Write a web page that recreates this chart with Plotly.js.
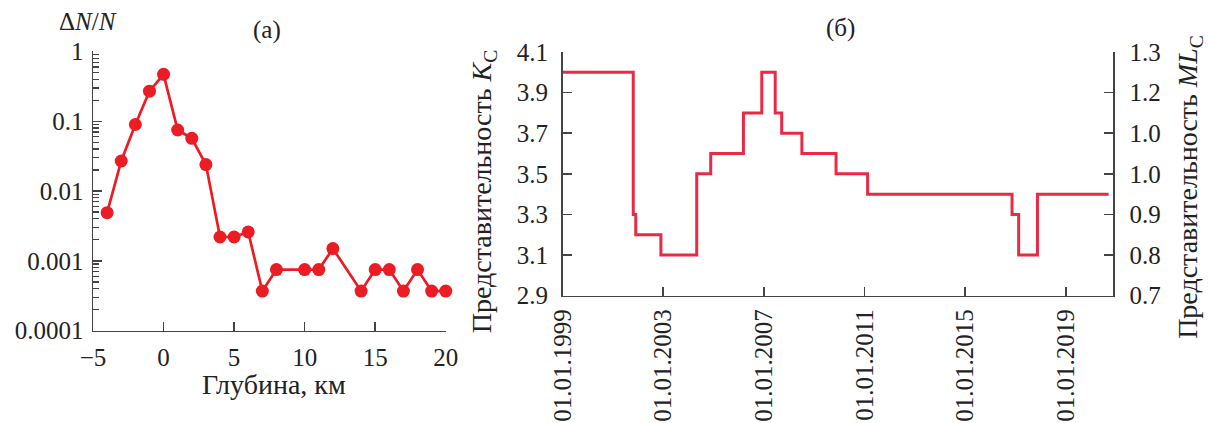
<!DOCTYPE html>
<html>
<head>
<meta charset="utf-8">
<script src="https://cdn.plot.ly/plotly-3.0.1.min.js"></script>
<style>
  html, body { margin: 0; padding: 0; background: #fff; }
  #chart { width: 1208px; height: 423px; }
</style>
</head>
<body>
<div id="chart"></div>
<script>
// (а) relative number of events by hypocentre depth
const depthKm = [-4, -3, -2, -1, 0, 1, 2, 3, 4, 5, 6, 7, 8, 10, 11, 12, 14, 15, 16, 17, 18, 19, 20];
const relCount = [0.0049, 0.027, 0.09, 0.27, 0.47, 0.075, 0.057, 0.024, 0.0022, 0.0022, 0.0026,
                  0.00037, 0.00075, 0.00075, 0.00075, 0.0015, 0.00037, 0.00075, 0.00075,
                  0.00037, 0.00075, 0.00037, 0.00037];
const depthTicks = [-5, 0, 5, 10, 15, 20];
const depthTickText = ['\u22125', '0', '5', '10', '15', '20'];
const logTicks = [0.0001, 0.001, 0.01, 0.1, 1];
const logTickText = ['0.0001', '0.001', '0.01', '0.1', '1'];

// (б) representative class K_C over time (step changes)
const stepDates = ['1999-01-01', '2001-10-23', '2001-11-28', '2002-11-28', '2004-05-01', '2004-11-20',
                   '2006-03-10', '2006-12-01', '2007-06-14', '2007-09-16', '2008-07-05', '2009-11-13',
                   '2011-02-14', '2016-11-10', '2017-02-14', '2017-11-14', '2020-09-12'];
const kcValues = [4.0, 3.3, 3.2, 3.1, 3.5, 3.6, 3.8, 4.0, 3.8, 3.7, 3.6, 3.5, 3.4, 3.3, 3.1, 3.4, 3.4];
const dateTicks = ['1999-01-01', '2003-01-01', '2007-01-01', '2011-01-01', '2015-01-01', '2019-01-01'];
const dateTickText = ['01.01.1999', '01.01.2003', '01.01.2007', '01.01.2011', '01.01.2015', '01.01.2019'];
const kcTicks = [2.9, 3.1, 3.3, 3.5, 3.7, 3.9, 4.1];
const kcTickText = ['2.9', '3.1', '3.3', '3.5', '3.7', '3.9', '4.1'];
const mlTicks = [0.7, 0.8, 0.9, 1.0, 1.1, 1.2, 1.3];
const mlTickText = ['0.7', '0.8', '0.9', '1.0', '1.0', '1.2', '1.3'];

const axisColor = '#444';
const family = 'Liberation Serif, Times New Roman, serif';
const font = { family: family, size: 25, color: '#222' };
const titleFont = { family: family, size: 28, color: '#222' };

const baseAxis = {
  showgrid: false, zeroline: false, showline: true,
  linecolor: axisColor, linewidth: 1.5,
  ticks: 'inside', ticklen: 9, tickwidth: 1.5, tickcolor: axisColor,
  tickfont: font
};

const traces = [
  {
    x: depthKm, y: relCount, xaxis: 'x', yaxis: 'y',
    type: 'scatter', mode: 'lines+markers', cliponaxis: false,
    line: { color: '#ec1c24', width: 2.7 },
    marker: { color: '#ec1c24', size: 13 },
    hoverinfo: 'x+y'
  },
  {
    x: stepDates, y: kcValues, xaxis: 'x2', yaxis: 'y2',
    type: 'scatter', mode: 'lines',
    line: { color: '#ea2a45', width: 3, shape: 'hv' },
    hoverinfo: 'x+y'
  },
  // empty trace so the ML_C scale on the right is drawn
  { x: [], y: [], xaxis: 'x2', yaxis: 'y3', type: 'scatter', mode: 'lines', hoverinfo: 'skip' }
];

const layout = {
  width: 1208, height: 423,
  margin: { l: 0, r: 0, t: 0, b: 0 },
  paper_bgcolor: '#fff', plot_bgcolor: 'rgba(0,0,0,0)',
  showlegend: false,
  font: font,
  xaxis: Object.assign({}, baseAxis, {
    domain: [0.077, 0.369], anchor: 'y',
    range: [-5, 20], tickvals: depthTicks, ticktext: depthTickText,
    ticklabelstandoff: 4
  }),
  yaxis: Object.assign({}, baseAxis, {
    domain: [0.2182, 0.8783], anchor: 'x',
    type: 'log', range: [-4, 0], dtick: 1, tickvals: logTicks, ticktext: logTickText,
    ticklabelstandoff: 3,
    minor: { dtick: 'D1', ticks: 'inside', ticklen: 6, tickwidth: 1.2, tickcolor: axisColor, showgrid: false }
  }),
  xaxis2: Object.assign({}, baseAxis, {
    domain: [0.4657, 0.9214], anchor: 'y2',
    type: 'date', range: ['1999-01-01', '2020-11-15'],
    tickvals: dateTicks, ticktext: dateTickText, tickangle: -90,
    ticklabelstandoff: 2
  }),
  yaxis2: Object.assign({}, baseAxis, {
    domain: [0.3009, 0.8771], anchor: 'x2',
    range: [2.9, 4.1], tickvals: kcTicks, ticktext: kcTickText,
    ticklabelstandoff: 8
  }),
  yaxis3: Object.assign({}, baseAxis, {
    overlaying: 'y2', anchor: 'x2', side: 'right',
    range: [0.7, 1.3], tickvals: mlTicks, ticktext: mlTickText,
    ticklabelstandoff: 10
  }),
  annotations: [
    { text: '\u0394<i>N</i>/<i>N</i>', xref: 'paper', yref: 'paper', x: 0.073, y: 0.948,
      xanchor: 'center', yanchor: 'middle', showarrow: false, font: { family: family, size: 25, color: '#222' } },
    { text: '(a)', xref: 'paper', yref: 'paper', x: 0.221, y: 0.929,
      xanchor: 'center', yanchor: 'middle', showarrow: false, font: font },
    { text: '(б)', xref: 'paper', yref: 'paper', x: 0.696, y: 0.934,
      xanchor: 'center', yanchor: 'middle', showarrow: false, font: font },
    { text: 'Глубина, км', xref: 'paper', yref: 'paper', x: 0.227, y: 0.09,
      xanchor: 'center', yanchor: 'middle', showarrow: false, font: titleFont },
    { text: 'Представительность <i>K</i><sub>C</sub>', xref: 'paper', yref: 'paper',
      x: 0.400, y: 0.546, textangle: -90,
      xanchor: 'center', yanchor: 'middle', showarrow: false, font: titleFont },
    { text: 'Представительность <i>ML</i><sub>C</sub>', xref: 'paper', yref: 'paper',
      x: 0.985, y: 0.558, textangle: -90,
      xanchor: 'center', yanchor: 'middle', showarrow: false, font: titleFont }
  ]
};

Plotly.newPlot('chart', traces, layout, { displayModeBar: false, staticPlot: true });
</script>
</body>
</html>
